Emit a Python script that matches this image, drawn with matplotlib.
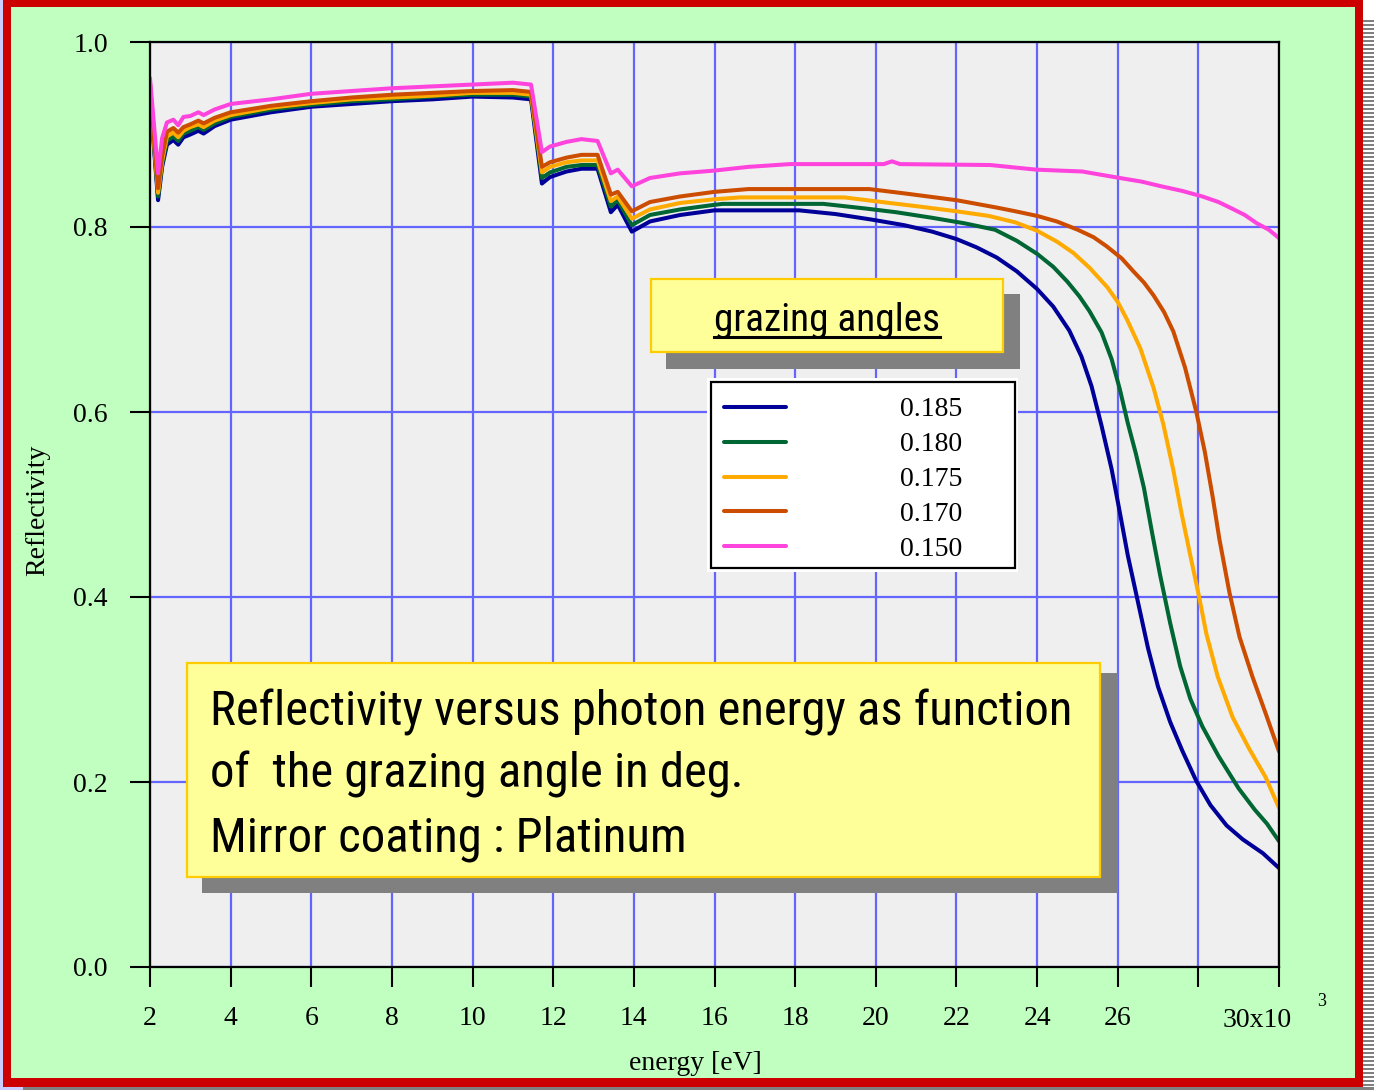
import matplotlib
matplotlib.use('Agg')
import matplotlib.pyplot as plt
from matplotlib.patches import Rectangle
from matplotlib.lines import Line2D
from matplotlib.transforms import offset_copy

# ---------------- data (energy in keV, reflectivity) ----------------
E_low = [2.00, 2.10, 2.20, 2.30, 2.42, 2.58, 2.70, 2.83, 3.00, 3.20, 3.33, 3.60,
         4.00, 5.00, 6.00, 7.00, 8.00, 9.00, 10.00, 11.00, 11.45, 11.72, 11.92,
         12.33, 12.70, 13.10, 13.43, 13.60, 13.95, 14.40, 15.15, 16.00]

R185_low = [0.950, 0.885, 0.829, 0.865, 0.889, 0.894, 0.889, 0.897, 0.900, 0.904, 0.901, 0.909,
            0.916, 0.924, 0.930, 0.933, 0.936, 0.938, 0.941, 0.940, 0.938, 0.847, 0.854,
            0.860, 0.863, 0.863, 0.816, 0.824, 0.795, 0.806, 0.813, 0.818]
E185_tail = [17.0, 18.1, 19.0, 19.9, 20.7, 21.4, 22.0, 22.5, 23.0, 23.5, 24.0, 24.4, 24.8, 25.1,
             25.35, 25.6, 25.85, 26.05, 26.25, 26.5, 26.75, 27.0, 27.3, 27.6, 27.95, 28.3, 28.7,
             29.1, 29.6, 30.0]
R185_tail = [0.818, 0.818, 0.814, 0.808, 0.802, 0.795, 0.787, 0.778, 0.767, 0.752, 0.733, 0.714,
             0.688, 0.660, 0.628, 0.585, 0.538, 0.492, 0.445, 0.395, 0.345, 0.303, 0.265, 0.234,
             0.201, 0.175, 0.153, 0.138, 0.123, 0.107]

R180_low = [0.952, 0.888, 0.833, 0.868, 0.893, 0.898, 0.893, 0.901, 0.904, 0.908, 0.905, 0.912,
            0.919, 0.927, 0.932, 0.936, 0.938, 0.941, 0.943, 0.943, 0.941, 0.853, 0.859,
            0.865, 0.867, 0.867, 0.822, 0.829, 0.802, 0.813, 0.819, 0.824]
E180_tail = [16.2, 18.7, 19.74, 20.5, 21.39, 22.2, 22.96, 23.5, 24.0, 24.4, 24.75, 25.05, 25.3,
             25.6, 25.85, 26.05, 26.25, 26.45, 26.65, 26.85, 27.05, 27.3, 27.55, 27.8, 28.1, 28.5,
             29.0, 29.4, 29.7, 30.0]
R180_tail = [0.825, 0.825, 0.820, 0.816, 0.810, 0.804, 0.797, 0.785, 0.771, 0.757, 0.741, 0.725,
             0.709, 0.686, 0.657, 0.625, 0.588, 0.555, 0.518, 0.470, 0.424, 0.372, 0.325, 0.290,
             0.260, 0.228, 0.193, 0.170, 0.155, 0.136]

R175_low = [0.954, 0.891, 0.837, 0.871, 0.898, 0.902, 0.897, 0.904, 0.908, 0.911, 0.908, 0.915,
            0.921, 0.929, 0.934, 0.938, 0.940, 0.942, 0.945, 0.945, 0.943, 0.859, 0.865,
            0.870, 0.872, 0.872, 0.828, 0.833, 0.809, 0.819, 0.826, 0.830]
E175_tail = [16.64, 19.22, 20.15, 21.1, 22.0, 22.8, 23.46, 24.0, 24.5, 24.9, 25.3, 25.74, 26.0,
             26.23, 26.56, 26.89, 27.13, 27.38, 27.59, 27.80, 28.01, 28.20, 28.48, 28.85, 29.26,
             29.67, 30.0]
R175_tail = [0.832, 0.832, 0.827, 0.822, 0.817, 0.812, 0.805, 0.796, 0.784, 0.772, 0.756, 0.735,
             0.719, 0.700, 0.669, 0.626, 0.587, 0.537, 0.489, 0.445, 0.402, 0.360, 0.314, 0.270,
             0.236, 0.205, 0.172]

R170_low = [0.955, 0.895, 0.842, 0.876, 0.903, 0.907, 0.902, 0.908, 0.911, 0.915, 0.912, 0.918,
            0.924, 0.931, 0.936, 0.940, 0.943, 0.945, 0.947, 0.948, 0.946, 0.865, 0.870,
            0.875, 0.878, 0.878, 0.835, 0.838, 0.817, 0.827, 0.833, 0.838]
E170_tail = [16.84, 19.84, 20.77, 22.0, 23.0, 23.46, 24.0, 24.49, 25.01, 25.4, 25.73, 26.1,
             26.39, 26.65, 26.89, 27.15, 27.38, 27.67, 27.95, 28.16, 28.36, 28.52, 28.77, 29.02,
             29.34, 29.67, 30.0]
R170_tail = [0.841, 0.841, 0.836, 0.829, 0.821, 0.817, 0.812, 0.806, 0.797, 0.789, 0.779, 0.766,
             0.752, 0.740, 0.726, 0.708, 0.687, 0.648, 0.600, 0.557, 0.507, 0.463, 0.405, 0.357,
             0.314, 0.274, 0.233]

R150_low = [0.961, 0.910, 0.858, 0.896, 0.913, 0.916, 0.910, 0.919, 0.920, 0.924, 0.921, 0.927,
            0.933, 0.938, 0.944, 0.947, 0.950, 0.952, 0.954, 0.956, 0.954, 0.881, 0.887,
            0.892, 0.895, 0.893, 0.858, 0.862, 0.844, 0.853, 0.858, 0.861]
E150_tail = [16.84, 17.87, 20.2, 20.4, 20.6, 22.84, 23.98, 25.12, 26.05, 26.6, 27.08, 27.6, 28.1,
             28.5, 28.83, 29.15, 29.45, 29.75, 30.0]
R150_tail = [0.865, 0.868, 0.868, 0.871, 0.868, 0.867, 0.862, 0.860, 0.853, 0.849, 0.844, 0.839,
             0.833, 0.827, 0.820, 0.813, 0.804, 0.797, 0.788]

angle_labels = ['0.185', '0.180', '0.175', '0.170', '0.150']
line_colors = ['#000099', '#006633', '#ffaa00', '#cc4c00', '#ff44dd']
series_E = [E_low + E185_tail, E_low + E180_tail, E_low + E175_tail, E_low + E170_tail, E_low + E150_tail]
series_R = [R185_low + R185_tail, R180_low + R180_tail, R175_low + R175_tail,
            R170_low + R170_tail, R150_low + R150_tail]

x_ticks = [2, 4, 6, 8, 10, 12, 14, 16, 18, 20, 22, 24, 26, 28, 30]
x_ticklabels = ['2', '4', '6', '8', '10', '12', '14', '16', '18', '20', '22', '24', '26', '', '']
y_ticks = [0.0, 0.2, 0.4, 0.6, 0.8, 1.0]
y_ticklabels = ['0.0', '0.2', '0.4', '0.6', '0.8', '1.0']

desc_lines = ['Reflectivity versus photon energy as function',
              'of  the grazing angle in deg.',
              'Mirror coating : Platinum']

# ---------------- figure ----------------
W, H = 1374, 1090
SERIF = ['Liberation Serif', 'DejaVu Serif']
NARROW = ['Liberation Sans Narrow', 'Roboto Condensed', 'Arial Narrow', 'Nimbus Sans Narrow',
          'Liberation Sans', 'DejaVu Sans']

fig = plt.figure(figsize=(W / 100, H / 100), dpi=100, facecolor='#ccccff')


def frect(x0, y0, x1, y1, **kw):
    r = Rectangle((x0 / W, 1 - y1 / H), (x1 - x0) / W, (y1 - y0) / H,
                  transform=fig.transFigure, zorder=-5, **kw)
    fig.add_artist(r)


# page frame
frect(1363, 0, 1374, 20, fc='white', lw=0)
frect(1363, 20, 1374, 1090, fc='#808080', lw=0)
for yy in range(22, 1090, 4):
    frect(1363, yy, 1374, yy + 2, fc='white', lw=0)
frect(23, 1087, 1374, 1090, fc='#808080', lw=0)
frect(3, 0, 1363, 1087, fc='#cc0000', lw=0)
frect(11, 7, 1355, 1078, fc='#c0ffc0', lw=0)

ax = fig.add_axes([150 / W, 1 - 967 / H, (1279 - 150) / W, (967 - 42) / H])
ax.set_facecolor('#efefef')

for E, R, c in zip(series_E, series_R, line_colors):
    ax.plot(E, R, color=c, lw=2.9, solid_joinstyle='round', solid_capstyle='round', zorder=2)

ax.set_xlim(2, 30)
ax.set_ylim(0, 1.0)
ax.set_xticks(x_ticks)
ax.set_xticklabels(x_ticklabels)
ax.set_yticks(y_ticks)
ax.set_yticklabels(y_ticklabels)
ax.grid(True, color='#6464ff', lw=1.6)
ax.set_axisbelow(True)
for s in ax.spines.values():
    s.set_linewidth(1.6)
    s.set_color('black')
ax.tick_params(direction='out', length=14.4, width=1.5, labelsize=20, colors='black',
               labelfontfamily='Liberation Serif')
ax.tick_params(axis='x', pad=14)
ax.tick_params(axis='y', pad=16)

ax.set_xlabel('energy [eV]', fontsize=20, family=SERIF)
ax.xaxis.set_label_coords((695 - 150) / 1129, (967 - 1063) / 925)
ax.xaxis.label.set_va('center')
ax.set_ylabel('Reflectivity', fontsize=20, family=SERIF)
ax.yaxis.set_label_coords((38 - 150) / 1129, (967 - 510) / 925)
ax.yaxis.label.set_va('center')

xt = ax.get_xaxis_transform()
ax.text(30, 0, '30x10', transform=offset_copy(xt, fig=fig, x=-22, y=-60, units='dots'),
        ha='center', va='baseline', fontsize=20, family=SERIF, clip_on=False)
ax.text(30, 0, '3', transform=offset_copy(xt, fig=fig, x=43, y=-34, units='dots'),
        ha='center', va='center', fontsize=13, family=SERIF, clip_on=False)


def box(x0, y0, x1, y1, **kw):
    r = Rectangle((x0 / W, 1 - y1 / H), (x1 - x0) / W, (y1 - y0) / H,
                  transform=fig.transFigure, **kw)
    ax.add_patch(r)
    return r


# title box "grazing angles"
box(666, 294, 1020, 369, fc='#808080', lw=0, zorder=3)
box(651, 279, 1003, 352, fc='#ffff99', ec='#ffcc00', lw=1.6, zorder=4)
t_title = ax.text(827 / W, 1 - 331 / H, 'grazing angles', transform=fig.transFigure,
                  ha='center', va='baseline', fontsize=30, family=NARROW, zorder=6)

# legend box
box(707, 378, 1018, 572, fc='white', lw=0, zorder=4)
box(711, 382, 1015, 568, fc='white', ec='black', lw=1.6, zorder=4)
handles = ax.get_lines()
leg = ax.legend(handles, angle_labels, loc='upper left',
                bbox_to_anchor=(724 / W, 1 - 397 / H), bbox_transform=fig.transFigure,
                frameon=False, borderpad=0, borderaxespad=0, handlelength=2.23,
                handletextpad=4.1, labelspacing=0.34, prop={'family': SERIF, 'size': 20})
leg.set_zorder(6)

# description box
box(202, 673, 1118, 893, fc='#808080', lw=0, zorder=3)
box(187, 663, 1100, 877, fc='#ffff99', ec='#ffcc00', lw=1.6, zorder=4)
desc_texts = []
for txt, base in zip(desc_lines, [725, 788, 852]):
    desc_texts.append(ax.text(210 / W, 1 - base / H, txt, transform=fig.transFigure,
                              ha='left', va='baseline', fontsize=37.5, family=NARROW, zorder=6))

# fit the condensed-looking texts to the widths seen in the reference
renderer = fig.canvas.get_renderer()
w0 = desc_texts[0].get_window_extent(renderer).width
fs = 37.5 * 864.0 / w0
for t in desc_texts:
    t.set_fontsize(fs)
wt = t_title.get_window_extent(renderer).width
t_title.set_fontsize(30 * 226.0 / wt)

# underline for the title
bb = t_title.get_window_extent(renderer)
ul = Line2D([bb.x0 / W, bb.x1 / W], [1 - 337 / H, 1 - 337 / H], transform=fig.transFigure,
            color='black', lw=2.2, zorder=7)
ax.add_artist(ul)

fig.savefig('out.png', dpi=100, facecolor=fig.get_facecolor())
